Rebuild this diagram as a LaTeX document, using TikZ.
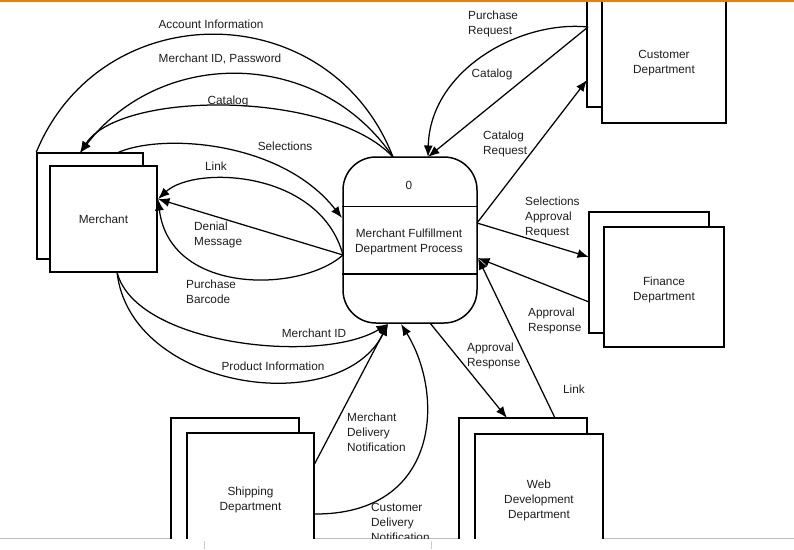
\documentclass[tikz,border=0pt]{standalone}
\usepackage{fontspec}
\setmainfont{Liberation Sans}
\usetikzlibrary{arrows.meta}
\definecolor{topline}{RGB}{240,125,0}
\definecolor{txt}{RGB}{30,30,30}
\newcommand{\fsz}{\fontsize{11.8}{15}\selectfont}
\begin{document}
\begin{tikzpicture}[x=1pt,y=-1pt,
  box/.style={draw=black,line width=1.5pt,fill=white,inner sep=0pt,align=center,text=txt,font=\fsz},
  flow/.style={line width=1.25pt},
  arr/.style={flow,-{Latex[length=11.5pt,width=9pt]}},
  lbl/.style={text=txt,font=\fsz,inner sep=0pt,align=center},
  lbll/.style={lbl,anchor=west,align=left},
]
\useasboundingbox (0,0) rectangle (794,549);
\draw[topline,line width=2.2pt] (0,1) -- (794,1);
\draw[black!25,line width=1pt] (0,538.5) -- (794,538.5);
\draw[black!20,line width=0.6pt] (204,541) -- (204,549);
\draw[black!20,line width=0.6pt] (431,541) -- (431,549);

\begin{scope}
\clip (0,2.3) rectangle (794,538);
% external entities
\node[box,minimum width=106pt,minimum height=106pt] (mback) at (90,206) {};
\node[box,minimum width=107pt,minimum height=106pt] (merchant) at (103.5,219) {Merchant};
\node[box,minimum width=124pt,minimum height=137pt] (cback) at (649,38.5) {};
\node[box,minimum width=124pt,minimum height=124pt] (customer) at (664,61) {};
\node[lbl] (customerlbl) at (664,63.5) {Customer\\Department};
\node[box,minimum width=120pt,minimum height=121pt] (fback) at (649,272.5) {};
\node[box,minimum width=120pt,minimum height=120pt] (finance) at (664,287) {};
\node[lbl] (financelbl) at (664,290) {Finance\\Department};
\node[box,minimum width=128pt,minimum height=130pt] (sback) at (235,483) {};
\node[box,minimum width=127pt,minimum height=130pt] (shipping) at (250.5,498) {};
\node[lbl] (shippinglbl) at (250.5,499.5) {Shipping\\Department};
\node[box,minimum width=128pt,minimum height=130pt] (wback) at (523,483) {};
\node[box,minimum width=128pt,minimum height=132pt] (web) at (539,500) {Web\\Development\\Department};
% process
\node[draw,line width=1.5pt,fill=white,rounded corners=33pt,minimum width=134pt,minimum height=166pt,inner sep=0pt] (proc) at (410,240) {};
\draw[line width=1.5pt] ([yshift=-50pt]proc.north west) -- ([yshift=-50pt]proc.north east);
\draw[line width=1.5pt] ([yshift=50pt]proc.south west) -- ([yshift=50pt]proc.south east);
\node[lbl] (pnum) at (409,185) {0};
\node[lbl] (pname) at (409,242) {Merchant Fulfillment\\Department Process};

% connector end points
\coordinate (mTL) at (mback.north west);
\coordinate (mTop) at (80,153);
\coordinate (mTop2) at (117,153);
\coordinate (mR) at (158,199);
\coordinate (mB) at (117,272);
\coordinate (pTL) at (393,157);
\coordinate (pTR) at (428,157);
\coordinate (pL1) at (342,218);
\coordinate (pL2) at (343,255);
\coordinate (pB1) at (388,324);
\coordinate (pB2) at (401,324);
\coordinate (pB3) at (430,323);
\coordinate (pR1) at (477,223);
\coordinate (pR2) at (478,258);
\coordinate (cL1) at (588,27);
\coordinate (cL2) at (587,80);
\coordinate (fL1) at (589,257);
\coordinate (fL2) at (589,302);
\coordinate (sR1) at (314,465);
\coordinate (sR2) at (314,514);
\coordinate (wT1) at (507,418);
\coordinate (wT2) at (555,418);

% connectors
\draw[flow] (mTL) .. controls (102,-7) and (330,-5) .. (pTL);
\draw[arr] (pTL) .. controls (320,49) and (162,46) .. (mTop);
\draw[arr] (pTL) .. controls (330,90) and (120,90) .. (mTop);
\draw[arr] (mTop2) .. controls (160,133) and (281,140) .. (pL1);
\draw[arr] (pL2) .. controls (320,170) and (195,165) .. (mR);
\draw[arr] (pL2) -- (mR);
\draw[arr] (pL2) .. controls (300,293) and (170,295) .. (mR);
\draw[arr] (mB) .. controls (135,345) and (320,365) .. (pB1);
\draw[arr] (mB) .. controls (130,390) and (340,420) .. (pB1);
\draw[arr] (sR1) -- (pB1);
\draw[arr] (sR2) .. controls (440,515) and (445,395) .. (pB2);
\draw[arr] (pB3) -- (wT1);
\draw[arr] (wT2) -- (pR2);
\draw[arr] (fL2) -- (pR2);
\draw[arr] (pR1) -- (fL1);
\draw[arr] (pR1) -- (cL2);
\draw[arr] (cL1) -- (pTR);
\draw[arr] (cL1) .. controls (520,20) and (430,70) .. (pTR);

% labels
\node[lbl] (lAcc) at (211,24) {Account Information};
\node[lbl] (lMid) at (220,59) {Merchant ID, Password};
\node[lbl] (lCat) at (228,101) {Catalog};
\node[lbl] (lSel) at (285,146) {Selections};
\node[lbl] (lLink) at (216,166) {Link};
\node[lbll] (lDen) at (194,234.5) {Denial\\Message};
\node[lbll] (lPB) at (186,291.5) {Purchase\\Barcode};
\node[lbl] (lMID) at (314,333) {Merchant ID};
\node[lbl] (lPI) at (273,366) {Product Information};
\node[lbll] (lMDN) at (347,432) {Merchant\\Delivery\\Notification};
\node[lbll] (lCDN) at (371,522) {Customer\\Delivery\\Notification};
\node[lbll] (lAR1) at (467,355.5) {Approval\\Response};
\node[lbl] (lLink2) at (574,389) {Link};
\node[lbll] (lAR2) at (528,321) {Approval\\Response};
\node[lbll] (lSAR) at (525,217) {Selections\\Approval\\Request};
\node[lbll] (lCR) at (483,143.5) {Catalog\\Request};
\node[lbl] (lCat2) at (492,74) {Catalog};
\node[lbll] (lPR) at (468,23.5) {Purchase\\Request};
\end{scope}
\end{tikzpicture}
\end{document}
